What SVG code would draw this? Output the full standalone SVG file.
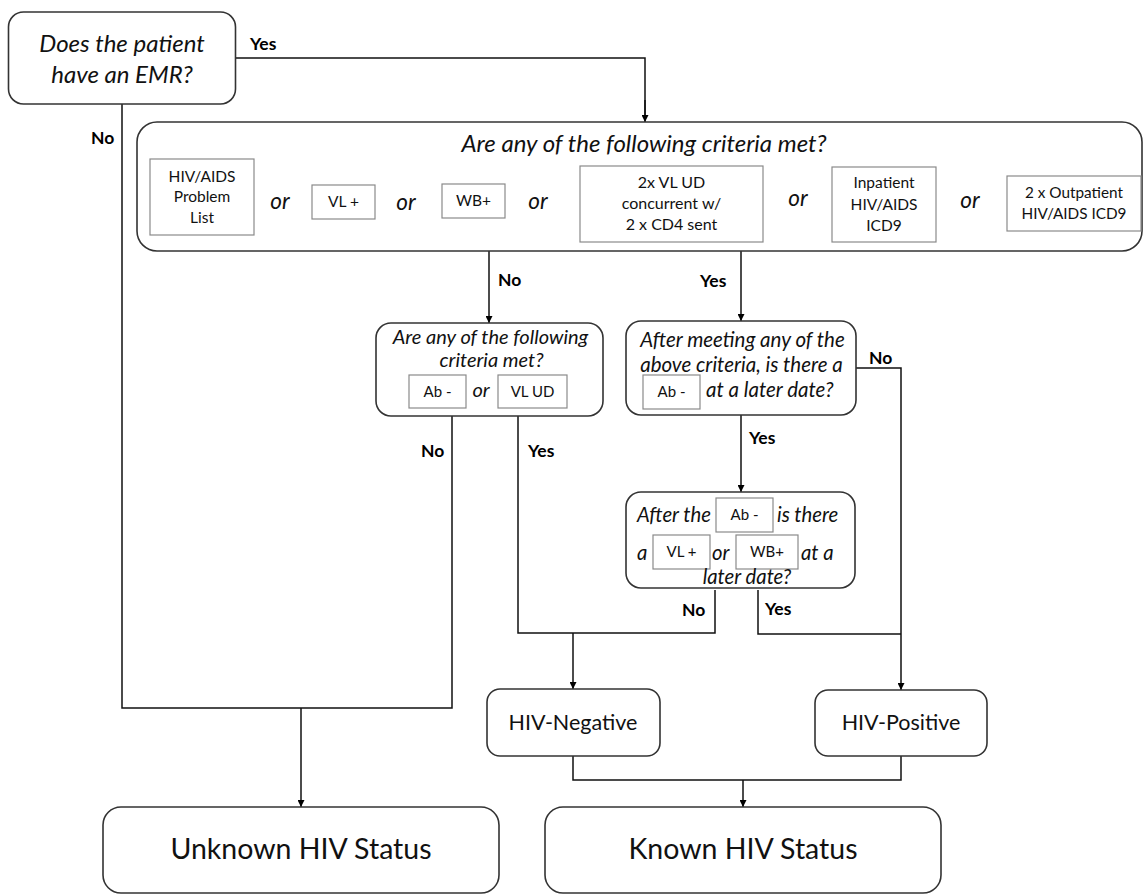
<svg xmlns="http://www.w3.org/2000/svg" width="1144" height="896" viewBox="0 0 1144 896">
<defs>
<marker id="ah" viewBox="0 0 10 10" refX="10" refY="5" markerWidth="7" markerHeight="7" markerUnits="userSpaceOnUse" orient="auto">
<path d="M0,0 L10,5 L0,10 z" fill="#000"/>
</marker>
<style>
.node{fill:#fff;stroke:#333;stroke-width:1.6}
.sub{fill:#fff;stroke:#8a8a8a;stroke-width:1.2}
.q{font-family:Lato,"Liberation Sans",sans-serif;font-style:italic;fill:#111}
.t{font-family:Lato,"Liberation Sans",sans-serif;fill:#111}
.lbl{font-family:Lato,"Liberation Sans",sans-serif;font-weight:bold;font-size:17.5px;fill:#000}
.c{text-anchor:middle}
.ln{fill:none;stroke:#111;stroke-width:1.5}
.arr{fill:none;stroke:#111;stroke-width:1.5;marker-end:url(#ah)}
</style>
</defs>
<rect width="1144" height="896" fill="#fff"/>

<g id="connectors">
<path class="ln" d="M235,58 H645 V116"/>
<path class="arr" d="M645,100 V122"/>
<path class="ln" d="M122,104 V708 H452 V416"/>
<path class="arr" d="M301,708 V807"/>
<path class="arr" d="M489,251 V323"/>
<path class="arr" d="M741,251 V321"/>
<path class="ln" d="M518,416 V633 H715 V590"/>
<path class="arr" d="M573,633 V689"/>
<path class="arr" d="M741,415 V492"/>
<path class="ln" d="M758,590 V634 H901"/>
<path class="arr" d="M856,368 H901 V690"/>
<path class="ln" d="M573,756 V780 H901 V756"/>
<path class="arr" d="M743,780 V807"/>
<text class="lbl" x="250" y="50">Yes</text>
<text class="lbl" x="91" y="144">No</text>
<text class="lbl" x="498" y="286">No</text>
<text class="lbl" x="700" y="287">Yes</text>
<text class="lbl" x="421" y="457">No</text>
<text class="lbl" x="528" y="457">Yes</text>
<text class="lbl" x="869" y="364">No</text>
<text class="lbl" x="749" y="444">Yes</text>
<text class="lbl" x="682" y="616">No</text>
<text class="lbl" x="765" y="615">Yes</text>
</g>

<g id="emr">
<rect class="node" x="8.5" y="12" width="227" height="92" rx="15"/>
<text class="q c" x="122" y="52" font-size="24">Does the patient</text>
<text class="q c" x="122" y="83" font-size="24">have an EMR?</text>
</g>

<g id="criteria">
<rect class="node" x="137" y="122" width="1005" height="129" rx="20"/>
<text class="q c" x="644" y="152" font-size="24">Are any of the following criteria met?</text>
<rect class="sub" x="150" y="159" width="104" height="76"/>
<text class="t c" x="202" y="182" font-size="15.5">HIV/AIDS</text>
<text class="t c" x="202" y="202" font-size="15.5">Problem</text>
<text class="t c" x="202" y="223" font-size="15.5">List</text>
<text class="q c" x="280" y="209" font-size="22.5">or</text>
<rect class="sub" x="312" y="185" width="63" height="34"/>
<text class="t c" x="343.5" y="207" font-size="15.5">VL +</text>
<text class="q c" x="406" y="210" font-size="22.5">or</text>
<rect class="sub" x="442" y="184" width="63" height="34"/>
<text class="t c" x="473.5" y="206" font-size="15.5">WB+</text>
<text class="q c" x="538" y="209" font-size="22.5">or</text>
<rect class="sub" x="580" y="166" width="183" height="76"/>
<text class="t c" x="671.5" y="188" font-size="16">2x VL UD</text>
<text class="t c" x="671.5" y="209" font-size="16">concurrent w/</text>
<text class="t c" x="671.5" y="230" font-size="16">2 x CD4 sent</text>
<text class="q c" x="798" y="206" font-size="22.5">or</text>
<rect class="sub" x="832" y="167" width="104" height="75"/>
<text class="t c" x="884" y="188" font-size="15.5">Inpatient</text>
<text class="t c" x="884" y="210" font-size="15.5">HIV/AIDS</text>
<text class="t c" x="884" y="231" font-size="15.5">ICD9</text>
<text class="q c" x="970" y="208" font-size="22.5">or</text>
<rect class="sub" x="1007" y="176" width="134" height="55"/>
<text class="t c" x="1074" y="198" font-size="15.3">2 x Outpatient</text>
<text class="t c" x="1074" y="219" font-size="15.3">HIV/AIDS ICD9</text>
</g>

<g id="neg-criteria">
<rect class="node" x="376" y="323" width="227" height="93" rx="15"/>
<text class="q c" x="490.5" y="344" font-size="20">Are any of the following</text>
<text class="q c" x="491.5" y="367" font-size="20">criteria met?</text>
<rect class="sub" x="409" y="375" width="57" height="33"/>
<text class="t c" x="437.5" y="397" font-size="15">Ab -</text>
<text class="q c" x="481" y="397" font-size="20">or</text>
<rect class="sub" x="498" y="375" width="69" height="33"/>
<text class="t c" x="532.5" y="397" font-size="15">VL UD</text>
</g>

<g id="later-ab">
<rect class="node" x="626" y="321" width="230" height="94" rx="15"/>
<text class="q c" x="742.5" y="347" font-size="20.5">After meeting any of the</text>
<text class="q c" x="741.5" y="372" font-size="20.5">above criteria, is there a</text>
<rect class="sub" x="643" y="375" width="57" height="34"/>
<text class="t c" x="671.5" y="397" font-size="15">Ab -</text>
<text class="q" x="706" y="397" font-size="20.5">at a later date?</text>
</g>

<g id="after-ab">
<rect class="node" x="626" y="492" width="229" height="96" rx="15"/>
<text class="q" x="637" y="522" font-size="20.3">After the</text>
<rect class="sub" x="716" y="498" width="57" height="34"/>
<text class="t c" x="744.5" y="520" font-size="15">Ab -</text>
<text class="q" x="777" y="522" font-size="20.3">is there</text>
<text class="q" x="637" y="560" font-size="20.3">a</text>
<rect class="sub" x="653" y="535" width="57" height="34"/>
<text class="t c" x="681.5" y="557" font-size="15">VL +</text>
<text class="q" x="712" y="560" font-size="20.3">or</text>
<rect class="sub" x="736" y="535" width="62" height="34"/>
<text class="t c" x="767" y="557" font-size="15">WB+</text>
<text class="q" x="801" y="560" font-size="20.3">at a</text>
<text class="q c" x="747" y="584" font-size="20.3">later date?</text>
</g>

<g id="hiv-negative">
<rect class="node" x="487" y="689" width="173" height="67" rx="13"/>
<text class="t c" x="573" y="730" font-size="21.5">HIV-Negative</text>
</g>

<g id="hiv-positive">
<rect class="node" x="815" y="690" width="172" height="66" rx="13"/>
<text class="t c" x="901" y="730" font-size="21.5">HIV-Positive</text>
</g>

<g id="unknown">
<rect class="node" x="103" y="807" width="396" height="86" rx="18"/>
<text class="t c" x="301" y="859" font-size="28.5">Unknown HIV Status</text>
</g>

<g id="known">
<rect class="node" x="545" y="807" width="396" height="86" rx="18"/>
<text class="t c" x="743" y="859" font-size="28.5">Known HIV Status</text>
</g>
</svg>
